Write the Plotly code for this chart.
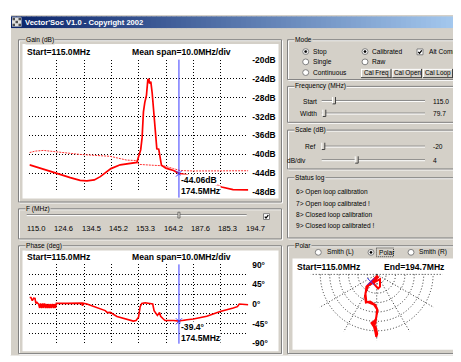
import plotly.graph_objects as go

W, H = 461, 362
OFF = 8  # page body margin of the html document
FW, FH = W - OFF, H - OFF
GREY = '#d4d0c8'
DARK = '#808080'
UI_FONT = 'Liberation Sans, Arial, sans-serif'
CH_FONT = 'Liberation Sans, Arial, sans-serif'
UI_SIZE = 6.6

# ---------------- data ----------------
# sweep position in grid divisions (0..8), gain in dB
gain_pos = [0.00, 0.51, 1.00, 1.49, 1.85, 2.10, 2.37, 2.59, 2.98, 3.32, 3.68, 3.93, 3.99, 4.07,
            4.12, 4.17, 4.22, 4.28, 4.33, 4.37, 4.39, 4.44, 4.49, 4.54, 4.59, 4.63, 4.66, 4.73,
            4.78, 4.83, 4.99, 5.27, 5.49, 5.76, 6.12, 6.49, 6.70, 7.03, 7.45, 8.01]
gain_db = [-42.2, -43.2, -44.0, -44.9, -45.5, -45.6, -45.4, -44.7, -43.0, -42.2, -41.9, -41.7, -40.5, -39.0,
           -36.5, -31.0, -29.0, -27.5, -24.2, -24.0, -25.0, -24.6, -27.0, -30.0, -33.0, -36.5, -38.8, -38.9,
           -40.5, -42.3, -42.9, -43.4, -44.05, -44.3, -45.5, -46.0, -46.1, -46.9, -47.45, -47.5]
ref_pos = [0.00, 0.21, 0.51, 1.00, 1.85, 2.95, 3.32, 3.56, 3.95, 3.99, 4.54, 4.90, 5.27, 5.51, 6.00, 8.01]
ref_db = [-39.6, -39.3, -39.15, -39.5, -40.0, -40.4, -40.8, -41.2, -41.3, -42.1, -42.3, -42.4, -43.0, -43.4, -43.5, -43.45]
phase_pos = [0.00, 0.05, 0.10, 0.15, 0.20, 0.23, 0.27, 0.33, 0.37, 0.40, 0.44, 0.48, 0.51, 0.55, 0.59,
             0.62, 0.66, 0.70, 0.73, 0.77, 0.80, 0.84, 0.88, 0.91, 0.95, 0.98, 1.37, 1.85, 1.91, 1.94,
             1.96, 2.10, 2.46, 2.77, 2.85, 2.95, 3.20, 3.56, 3.80, 3.90, 3.99, 4.05, 4.11, 4.23, 4.41,
             4.51, 4.56, 4.63, 4.68, 4.76, 4.80, 4.88, 4.96, 5.27, 5.49, 5.76, 6.00, 6.49, 6.98, 7.46,
             7.61, 7.68, 8.01]
phase_deg = [15, 15, 7.5, 13.5, 12.8, 1.5, 3.8, 0, -9, 1.5, -9, 1.5, -9, 1.5, -9,
             0, -9, 0, -9, 0, -9, 0, -9, 0, -9, 1.5, 1.5, 2, 2, -4,
             2, 0, -7.5, -15, -19.5, -19, -28.5, -34, -39, -37.5, -30, -6, 1.5, 3, 1.5,
             0, -15, -22.5, -26, -19.5, -28, -33, -37.5, -37.5, -39, -36, -34, -28, -17, -9,
             -6, 0, -1.5]
polar_r = [0.14, 0.45, 0.86, 1.42, 1.70, 2.14, 2.66, 3.21, 2.98, 3.25, 3.70, 4.55, 5.25, 5.14, 5.56,
           6.10, 6.65, 6.30, 5.60, 5.22, 4.80, 3.80, 3.21, 3.10, 2.33, 1.50, 0.61, 1.35, 1.51, 0.98, 0.28]
polar_theta = [315, 243.4, 234.5, 230.7, 229.8, 237.4, 242, 249, 256.4, 267.4, 270.8, 269.4, 268.4, 263.3, 266.9,
               268.6, 269.6, 270.5, 269, 264.5, 268.8, 271.5, 264.6, 249.2, 239, 233.1, 305, 285.1, 275.7, 246, 315]
marker_pos = 5.47
marker_gain = -44.06
marker_phase = -39.4
marker_freq = 174.5
marker_polar_r = 0.985
marker_polar_theta = 230.6
start_freq = 115.0
end_freq = 194.7
span_per_div = 10.0
f_labels = ['115.0', '124.6', '134.5', '145.2', '153.3', '164.2', '187.6', '185.3', '194.7']
gain_ticks = [-20, -24, -28, -32, -36, -40, -44, -48]
phase_ticks = [90, 67.5, 45, 22.5, 0, -22.5, -45, -67.5, -90]
phase_ticktext = ['90°', '', '45°', '', '0°', '', '-45°', '', '-90°']
status_lines = ['6> Open loop calibration', '7> Open loop calibrated !',
                '8> Closed loop calibration', '9> Closed loop calibrated !']

# ---------------- helpers (page pixel -> paper) ----------------
def X(x):
    return (x - OFF) / FW


def Y(y):
    return 1 - (y - OFF) / FH


shapes = []
annos = []


def rect(x0, y0, x1, y1, fill=None, line=None, lw=1, layer='below', dash=None):
    shapes.append(dict(type='rect', xref='paper', yref='paper', x0=X(x0), x1=X(x1), y0=Y(y0), y1=Y(y1),
                       fillcolor=fill if fill else 'rgba(0,0,0,0)',
                       line=dict(color=line if line else 'rgba(0,0,0,0)', width=lw if line else 0,
                                 dash=dash if dash else 'solid'),
                       layer=layer))


def seg(x0, y0, x1, y1, color, lw=1, layer='below', dash='solid'):
    shapes.append(dict(type='line', xref='paper', yref='paper', x0=X(x0), x1=X(x1), y0=Y(y0), y1=Y(y1),
                       line=dict(color=color, width=lw, dash=dash), layer=layer))


def text(x, y, s, size=UI_SIZE, bold=False, xanchor='left', bg=None, family=UI_FONT, color='black'):
    a = dict(xref='paper', yref='paper', x=X(x), y=Y(y), text=s, showarrow=False, xanchor=xanchor,
             yanchor='middle', borderpad=0,
             font=dict(size=size, color=color, family=family, weight='bold' if bold else 'normal'))
    if bg:
        a['bgcolor'] = bg
    annos.append(a)


def groupbox(x0, y0, x1, y1, label):
    rect(x0 + 1, y0 + 1, x1 + 1, y1 + 1, line='white')
    rect(x0, y0, x1, y1, line=DARK)
    text(x0 + 6, y0, label, bg=GREY)


def radio(cx, cy, sel):
    r = 3.0
    shapes.append(dict(type='circle', xref='paper', yref='paper', x0=X(cx - r), x1=X(cx + r),
                       y0=Y(cy - r), y1=Y(cy + r), fillcolor='white', line=dict(color=DARK, width=1), layer='above'))
    if sel:
        r2 = 1.2
        shapes.append(dict(type='circle', xref='paper', yref='paper', x0=X(cx - r2), x1=X(cx + r2),
                           y0=Y(cy - r2), y1=Y(cy + r2), fillcolor='black', line=dict(color='black', width=0.5),
                           layer='above'))


def checkbox(x0, y0, s=6):
    rect(x0, y0, x0 + s, y0 + s, fill='white', line=DARK, layer='above')
    shapes.append(dict(type='path', xref='paper', yref='paper',
                       path='M %f,%f L %f,%f L %f,%f' % (X(x0 + 1.3), Y(y0 + 3), X(x0 + 2.5), Y(y0 + 4.5),
                                                         X(x0 + 4.8), Y(y0 + 1.4)),
                       line=dict(color='black', width=1.3), layer='above'))


def button(x0, y0, x1, y1, label):
    rect(x0, y0, x1, y1, fill=GREY)
    seg(x0, y0 + 0.5, x1, y0 + 0.5, 'white')
    seg(x0 + 0.5, y0, x0 + 0.5, y1, 'white')
    seg(x0, y1 - 0.5, x1, y1 - 0.5, '#404040')
    seg(x1 - 0.5, y0, x1 - 0.5, y1, '#404040')
    text((x0 + x1) / 2, (y0 + y1) / 2, label, xanchor='center', size=UI_SIZE - 0.2)


def slider(x0, x1, y, thumb):
    seg(x0, y - 0.5, x1, y - 0.5, DARK)
    seg(x0, y + 0.5, x1, y + 0.5, 'white')
    rect(thumb - 1.5, y - 4, thumb + 1.5, y + 3, fill=GREY, line=None)
    seg(thumb - 1.5, y - 4, thumb - 1.5, y + 3, 'white')
    seg(thumb + 1.5, y - 4, thumb + 1.5, y + 3, '#404040')
    seg(thumb - 1.5, y + 3, thumb + 1.5, y + 3, '#404040')


# ---------------- window chrome ----------------
rect(10, 10, 461, 360.5, fill=GREY)
seg(10.5, 10, 10.5, 360.5, 'white')
n = 90
c0 = (10, 36, 106)
c1 = (166, 202, 240)
for i in range(n):
    t = i / (n - 1)
    col = 'rgb(%d,%d,%d)' % tuple(int(c0[k] + (c1[k] - c0[k]) * t) for k in range(3))
    xa = 11 + i * 450 / n
    rect(xa, 11.5, xa + 450 / n + 0.6, 23.5, fill=col)
# icon
rect(12, 12.5, 21.5, 22, fill='#e0e0e0')
for i in range(3):
    for j in range(3):
        if (i + j) % 2 == 0:
            rect(12.5 + i * 3, 13 + j * 3, 15 + i * 3, 15.5 + j * 3, fill='#505050')
text(24, 17.6, "Vector'Soc V1.0 - Copyright 2002", size=7.6, bold=True, color='white', family=CH_FONT)

# ---------------- left side ----------------
groupbox(18.5, 35.5, 281.5, 202.5, 'Gain (dB)')
rect(22.5, 40, 278.5, 199, fill='white')
groupbox(18.5, 209.5, 281.5, 240.5, 'F (MHz)')
groupbox(18.5, 247.5, 281.5, 358.5, 'Phase (deg)')
rect(22.5, 252.5, 278.5, 356, fill='white')

# chart headings
span_txt = 'Mean span=%.1fMHz/div' % span_per_div
text(26, 47.7, 'Start=%.1fMHz' % start_freq, size=8.6, bold=True, family=CH_FONT)
text(131, 47.7, span_txt, size=8.6, bold=True, family=CH_FONT)
text(26, 259.5, 'Start=%.1fMHz' % start_freq, size=8.6, bold=True, family=CH_FONT)
text(131, 259.5, span_txt, size=8.6, bold=True, family=CH_FONT)

# F slider
seg(26.7, 215.5, 246.7, 215.5, DARK)
seg(26.7, 216.5, 246.7, 216.5, 'white')
checkbox(263.5, 214.5, 6)

# ---------------- right side ----------------
groupbox(287.5, 35.5, 458.5, 76.5, 'Mode')
radio(305.7, 47.7, True)
radio(305.7, 58.3, False)
radio(305.7, 69.3, False)
text(311.5, 47.7, 'Stop')
text(311.5, 58.3, 'Single')
text(311.5, 69.3, 'Continuous')
radio(365, 47.7, True)
radio(365, 58.3, False)
text(370.5, 47.7, 'Calibrated')
text(370.5, 58.3, 'Raw')
checkbox(417, 45, 6)
text(427.5, 47.7, 'Alt Comm')
button(361, 65.5, 391.5, 75, 'Cal Freq')
button(392.3, 65.5, 422, 75, 'Cal Open')
button(423, 65.5, 453, 75, 'Cal Loop')

groupbox(287.5, 83.5, 458.5, 120.5, 'Frequency (MHz)')
text(318.3, 98.7, 'Start', xanchor='right')
slider(321.7, 425, 98.5, 334)
text(431.7, 98.7, '%.1f' % start_freq)
text(318.3, 111.7, 'Width', xanchor='right')
slider(321.7, 425, 111.5, 324.3)
text(431.7, 111.7, '%.1f' % (end_freq - start_freq))

groupbox(287.5, 128.5, 458.5, 168.5, 'Scale (dB)')
text(315.7, 145.3, 'Ref', xanchor='right')
slider(321.7, 425, 145.5, 323.3)
text(431.7, 145.3, '%d' % gain_ticks[0])
text(306.7, 159.3, 'dB/div', xanchor='right')
slider(321.7, 425, 159.5, 356.7)
text(431.7, 159.3, '%d' % (gain_ticks[0] - gain_ticks[1]))

groupbox(287.5, 177.5, 458.5, 239.5, 'Status log')
for k, s in enumerate(status_lines):
    text(295, 192.3 + k * 11.75, s)

groupbox(287.5, 247.5, 458.5, 358.5, 'Polar')
radio(318.3, 254.3, False)
radio(371, 254.3, True)
radio(411, 254.3, False)
text(325.5, 254.3, 'Smith (L)')
text(378.3, 254.3, 'Polar')
text(418.3, 254.3, 'Smith (R)')
rect(376.5, 249.8, 393.5, 258.8, line='#404040', dash='1px,1px', layer='above')
rect(292.5, 260.7, 457, 354.5, fill='white')
text(295.7, 269, 'Start=%.1fMHz' % start_freq, size=8.6, bold=True, family=CH_FONT)
text(383.3, 269, 'End=%.1fMHz' % end_freq, size=8.6, bold=True, family=CH_FONT)

# ---------------- traces ----------------
RED = '#ff0000'
BLUE = '#3a3aff'
GRID = dict(showgrid=True, gridcolor='#000000', gridwidth=1, griddash='1px,2px', zeroline=False,
            showline=False, ticks='', fixedrange=True)

fig = go.Figure()
fig.add_trace(go.Scatter(x=ref_pos, y=ref_db, mode='lines', line=dict(color='#ff3030', width=1, dash='2px,1px'),
                         xaxis='x', yaxis='y', hoverinfo='skip'))
fig.add_trace(go.Scatter(x=gain_pos, y=gain_db, mode='lines', line=dict(color=RED, width=1.7),
                         xaxis='x', yaxis='y', hoverinfo='skip'))
fig.add_trace(go.Scatter(x=[marker_pos], y=[marker_gain], mode='markers',
                         marker=dict(symbol='x-thin', size=6, line=dict(color=BLUE, width=1)),
                         xaxis='x', yaxis='y', hoverinfo='skip'))
fig.add_trace(go.Scatter(x=phase_pos, y=phase_deg, mode='lines', line=dict(color=RED, width=1.6),
                         xaxis='x2', yaxis='y2', hoverinfo='skip'))
fig.add_trace(go.Scatter(x=[marker_pos], y=[marker_phase], mode='markers',
                         marker=dict(symbol='x-thin', size=6, line=dict(color=BLUE, width=1)),
                         xaxis='x2', yaxis='y2', hoverinfo='skip'))
fig.add_trace(go.Scatterpolar(r=polar_r, theta=polar_theta, mode='lines', line=dict(color=RED, width=2.0),
                              subplot='polar', hoverinfo='skip'))
fig.add_trace(go.Scatterpolar(r=[marker_polar_r], theta=[marker_polar_theta], mode='markers',
                              marker=dict(symbol='x-thin', size=7, line=dict(color=BLUE, width=1)),
                              subplot='polar', hoverinfo='skip'))

# marker vertical lines
shapes.append(dict(type='line', xref='x', yref='paper', x0=marker_pos, x1=marker_pos, y0=Y(56), y1=Y(198),
                   line=dict(color=BLUE, width=1), layer='above'))
shapes.append(dict(type='line', xref='x2', yref='paper', x0=marker_pos, x1=marker_pos, y0=Y(266.7), y1=Y(348.3),
                   line=dict(color=BLUE, width=1), layer='above'))
# F slider thumb at marker
shapes.append(dict(type='rect', xref='x', yref='paper', x0=marker_pos - 0.04, x1=marker_pos + 0.04,
                   y0=Y(219), y1=Y(213), fillcolor=GREY, line=dict(color='#404040', width=0.6), layer='above'))

# marker read-outs
for xa, lines in (('x', [('%.2fdB' % marker_gain, 180), ('%.1fMHz' % marker_freq, 191.2)]),
                  ('x2', [('%.1f°' % marker_phase, 331), ('%.1fMHz' % marker_freq, 342.8)])):
    for s, yy in lines:
        annos.append(dict(xref=xa, yref='paper', x=marker_pos, y=Y(yy), xshift=1.5, text=s, showarrow=False,
                          xanchor='left', yanchor='middle', bgcolor='white', borderpad=0,
                          font=dict(size=8.6, family=CH_FONT, weight='bold', color='black')))

# F tick labels under slider, at grid divisions
for i, s in enumerate(f_labels):
    annos.append(dict(xref='x', yref='paper', x=i, y=Y(230), xshift=-4.5, text=s, showarrow=False,
                      xanchor='left', yanchor='middle', font=dict(size=7.6, family=CH_FONT, color='black')))

fig.update_layout(
    width=FW, height=FH, margin=dict(l=0, r=0, t=0, b=0), autosize=False,
    paper_bgcolor='white', plot_bgcolor='rgba(0,0,0,0)', showlegend=False,
    xaxis=dict(domain=[X(29.3), X(248.3)], range=[-0.01, 8.01], tick0=0, dtick=1, showticklabels=False, **GRID),
    yaxis=dict(domain=[Y(192.7), Y(56)], range=[-48.05, -19.95], tickvals=gain_ticks,
               ticktext=['%ddB' % v for v in gain_ticks], side='right', ticklabelstandoff=3,
               tickfont=dict(size=8.4, family=CH_FONT, weight='bold', color='black'), **GRID),
    xaxis2=dict(domain=[X(29.3), X(248.3)], range=[-0.01, 8.01], tick0=0, dtick=1, showticklabels=False,
                anchor='y2', **GRID),
    yaxis2=dict(domain=[Y(348.3), Y(266.7)], range=[-90.5, 90.5], tickvals=phase_ticks, ticktext=phase_ticktext,
                side='right', anchor='x2', ticklabelstandoff=3,
                tickfont=dict(size=8.4, family=CH_FONT, weight='bold', color='black'), **GRID),
    polar=dict(domain=dict(x=[X(308.7), X(444.7)], y=[Y(345), Y(277)]), sector=[180, 360],
               bgcolor='rgba(0,0,0,0)',
               radialaxis=dict(range=[0, 7.03], tick0=0, dtick=1, showticklabels=False, ticks='', showline=False,
                               gridcolor='#303030', griddash='1px,2px', gridwidth=1),
               angularaxis=dict(dtick=30, showticklabels=False, ticks='', showline=False,
                                gridcolor='#303030', griddash='1px,2px', gridwidth=1)),
    shapes=shapes, annotations=annos,
)

fig.write_html('out.html')
